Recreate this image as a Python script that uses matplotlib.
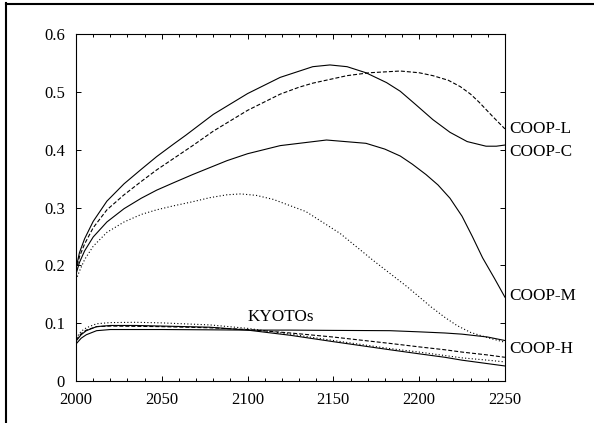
import matplotlib
matplotlib.use("Agg")
import matplotlib.pyplot as plt
from matplotlib.lines import Line2D

plt.rcParams["font.family"] = ["Liberation Serif", "DejaVu Serif"]

# COOP scenarios
coop_c_years = [2000, 2002, 2005, 2010, 2018, 2028, 2038, 2047, 2057, 2064, 2080, 2100,
                2119, 2138, 2148, 2158, 2169, 2181, 2189, 2198, 2208, 2218, 2228, 2239,
                2245, 2250]
coop_c = [0.195, 0.222, 0.246, 0.276, 0.311, 0.341, 0.366, 0.388, 0.410, 0.425, 0.461,
          0.497, 0.525, 0.5435, 0.5465, 0.5435, 0.533, 0.516, 0.501, 0.478, 0.452, 0.430,
          0.414, 0.406, 0.406, 0.408]

coop_l_years = [2000, 2002, 2005, 2010, 2018, 2028, 2038, 2047, 2057, 2068, 2080, 2100,
                2119, 2130, 2138, 2158, 2171, 2189, 2200, 2208, 2217, 2224, 2230, 2235,
                2243, 2250]
coop_l = [0.19, 0.215, 0.237, 0.265, 0.296, 0.322, 0.345, 0.365, 0.385, 0.407, 0.432,
          0.468, 0.496, 0.508, 0.515, 0.528, 0.533, 0.536, 0.533, 0.528, 0.520, 0.509,
          0.496, 0.482, 0.457, 0.436]

coop_m_years = [2000, 2002, 2005, 2010, 2018, 2028, 2038, 2047, 2057, 2068, 2088, 2100,
                2119, 2146, 2169, 2180, 2189, 2196, 2204, 2211, 2218, 2225, 2231, 2237,
                2244, 2250]
coop_m = [0.185, 0.205, 0.225, 0.249, 0.275, 0.298, 0.316, 0.330, 0.343, 0.357, 0.381,
          0.393, 0.407, 0.4167, 0.411, 0.401, 0.389, 0.375, 0.357, 0.339, 0.316, 0.285,
          0.250, 0.213, 0.177, 0.145]

coop_h_years = [2000, 2002, 2005, 2010, 2018, 2028, 2038, 2047, 2057, 2068, 2078, 2088,
                2096, 2105, 2115, 2134, 2154, 2173, 2193, 2207, 2215, 2222, 2230, 2241,
                2250]
coop_h = [0.175, 0.19, 0.21, 0.233, 0.257, 0.275, 0.288, 0.296, 0.303, 0.310, 0.317,
          0.322, 0.3235, 0.321, 0.314, 0.293, 0.255, 0.209, 0.163, 0.128, 0.110, 0.096,
          0.084, 0.074, 0.067]

# KYOTO scenarios
kyoto_years = [2000, 2003, 2006, 2012, 2020, 2035, 2050, 2078, 2100, 2125, 2150, 2183,
               2200, 2215, 2225, 2240, 2250]
kyoto_solid_b = [0.064, 0.074, 0.080, 0.087, 0.089, 0.089, 0.089, 0.0885, 0.088, 0.088,
                 0.0875, 0.087, 0.085, 0.083, 0.081, 0.076, 0.070]
kyoto_solid_a = [0.069, 0.080, 0.087, 0.094, 0.096, 0.096, 0.095, 0.093, 0.088, 0.079,
                 0.068, 0.054, 0.047, 0.041, 0.036, 0.030, 0.026]
kyoto_dashed = [0.071, 0.082, 0.088, 0.094, 0.095, 0.0945, 0.094, 0.092, 0.089, 0.083,
                0.076, 0.065, 0.059, 0.054, 0.050, 0.045, 0.041]
kyoto_dotted = [0.074, 0.086, 0.092, 0.099, 0.101, 0.1015, 0.1005, 0.097, 0.091, 0.081,
                0.070, 0.056, 0.050, 0.044, 0.040, 0.036, 0.033]

end_labels = ["COOP-L", "COOP-C", "COOP-M", "COOP-H"]
end_label_y = [0.44, 0.40, 0.15, 0.059]

x_ticks = [2000, 2050, 2100, 2150, 2200, 2250]
y_ticks = [0, 0.1, 0.2, 0.3, 0.4, 0.5, 0.6]
y_ticklabels = ["0", "0.1", "0.2", "0.3", "0.4", "0.5", "0.6"]

SOLID = "-"
DASHED = (0, (3.6, 1.8))
DOTTED = (0, (1, 2))

fig = plt.figure(figsize=(5.94, 4.23), dpi=100)
ax = fig.add_axes([0.128, 0.0993, 0.722, 0.8203])

lw = 0.8
ax.plot(coop_c_years, coop_c, color="black", lw=lw, ls=SOLID)
ax.plot(coop_l_years, coop_l, color="black", lw=lw, ls=DASHED)
ax.plot(coop_m_years, coop_m, color="black", lw=lw, ls=SOLID)
ax.plot(coop_h_years, coop_h, color="black", lw=lw, ls=DOTTED)

ax.plot(kyoto_years, kyoto_solid_b, color="black", lw=lw, ls=SOLID)
ax.plot(kyoto_years, kyoto_solid_a, color="black", lw=lw, ls=SOLID)
ax.plot(kyoto_years, kyoto_dashed, color="black", lw=lw, ls=DASHED)
ax.plot(kyoto_years, kyoto_dotted, color="black", lw=lw, ls=DOTTED)

ax.text(2100, 0.103, "KYOTOs", fontsize=12.3, ha="left", va="baseline")
for lab, yv in zip(end_labels, end_label_y):
    ax.text(2252.3, yv, lab, fontsize=12.3, ha="left", va="center_baseline", clip_on=False)

ax.set_xlim(2000, 2250)
ax.set_ylim(0, 0.6)
ax.set_xticks(x_ticks)
ax.set_xticks(range(2000, 2251, 10), minor=True)
ax.set_yticks(y_ticks)
ax.set_yticklabels(y_ticklabels)
ax.tick_params(which="both", direction="in", top=True, right=True, width=0.7,
               labelsize=12, pad=8)
ax.tick_params(which="major", length=3.8)
ax.tick_params(which="minor", length=1.9)
for s in ax.spines.values():
    s.set_linewidth(0.8)

# partial frame around the figure (left and top edges)
fig.add_artist(Line2D([5.7 / 594, 5.7 / 594], [0, 1 - 3.2 / 423], transform=fig.transFigure,
                      color="black", lw=1.5, solid_capstyle="projecting"))
fig.add_artist(Line2D([5.7 / 594, 1], [1 - 4.2 / 423, 1 - 4.2 / 423], transform=fig.transFigure,
                      color="black", lw=1.5, solid_capstyle="projecting"))

fig.savefig("out.png", dpi=100)
